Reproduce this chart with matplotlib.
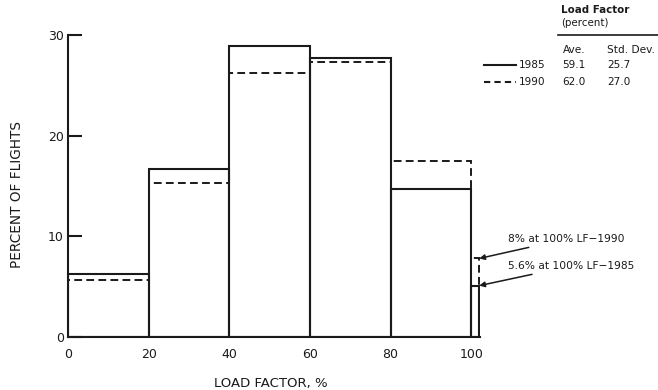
import matplotlib
matplotlib.use("Agg")
import matplotlib.pyplot as plt
import numpy as np

bin_edges = [0, 20, 40, 60, 80, 100, 102]
pct_1985 = [6.3, 16.7, 28.9, 27.7, 14.7, 5.1]
pct_1990 = [5.7, 15.3, 26.2, 27.3, 17.5, 7.8]
x_ticks = [0, 20, 40, 60, 80, 100]
y_ticks = [0, 10, 20, 30]
years = ["1985", "1990"]
ave = ["59.1", "62.0"]
std = ["25.7", "27.0"]

plt.rcParams['font.family'] = ['DejaVu Sans']
fig = plt.figure(figsize=(6.58, 3.9), dpi=100)
ax = fig.add_axes([68/658, 1-337/390, 412/658, 302/390])

edges = np.array(bin_edges)
widths = np.diff(edges)
ink = '#1a1a1a'
ax.bar(edges[:-1], pct_1990, width=widths, align='edge', fill=False,
       edgecolor=ink, linewidth=1.4, linestyle=(0, (4, 2.2)))
ax.bar(edges[:-1], pct_1985, width=widths, align='edge', fill=False,
       edgecolor=ink, linewidth=1.5, linestyle='-')

ax.set_xlim(0, 102.2)
ax.set_ylim(0, 30)
for s in ['top', 'right']:
    ax.spines[s].set_visible(False)
for s in ['left', 'bottom']:
    ax.spines[s].set_linewidth(1.5)
    ax.spines[s].set_color(ink)
ax.set_xticks(x_ticks)
ax.set_yticks(y_ticks)
ax.tick_params(axis='y', direction='in', length=10, width=1.5, labelsize=9, pad=3, colors=ink)
ax.tick_params(axis='x', length=0, labelsize=9, pad=8, colors=ink)
ax.set_ylabel("PERCENT OF FLIGHTS", fontsize=9.8, labelpad=18, color=ink)
ax.yaxis.set_label_coords(-(68-17)/412, 0.5 - 9/302)
ax.set_xlabel("LOAD FACTOR, %", fontsize=9.5, color=ink)
ax.xaxis.set_label_coords((271-68)/412, -(383-337)/302)
ax.xaxis.label.set_va('center')
ax.yaxis.label.set_va('center')

# legend table
fs = 7.6
fig.text(561/658, 1-10/390, "Load Factor", fontsize=7.4, fontweight='semibold', va='center', ha='left', color=ink)
fig.text(561/658, 1-23/390, "(percent)", fontsize=7.4, va='center', ha='left', color=ink)
fig.add_artist(plt.Line2D([558/658, 1.0], [1-35/390, 1-35/390], transform=fig.transFigure, color=ink, lw=1.2))
fig.text(563/658, 1-50/390, "Ave.", fontsize=fs, va='center', ha='left', color=ink)
fig.text(607/658, 1-50/390, "Std. Dev.", fontsize=fs, va='center', ha='left', color=ink)
row_y = [65, 82]
styles = ['-', (0, (3, 2))]
for yy, yr, a, s, ls in zip(row_y, years, ave, std, styles):
    fig.add_artist(plt.Line2D([484/658, 516/658], [1-yy/390]*2, transform=fig.transFigure,
                              color=ink, lw=1.5, linestyle=ls))
    fig.text(519/658, 1-yy/390, yr, fontsize=fs, va='center', ha='left', color=ink)
    fig.text(562/658, 1-yy/390, a, fontsize=fs, va='center', ha='left', color=ink)
    fig.text(607/658, 1-yy/390, s, fontsize=fs, va='center', ha='left', color=ink)

# annotations
ax.annotate("8% at 100% LF\u22121990", xy=(102, pct_1990[-1]), xycoords='data',
            xytext=(508/658, 1-239/390), textcoords='figure fraction',
            fontsize=7.7, va='center', ha='left', color=ink,
            arrowprops=dict(arrowstyle='-|>', color=ink, lw=1.1, mutation_scale=8,
                            shrinkA=2, shrinkB=0))
ax.annotate("5.6% at 100% LF\u22121985", xy=(102, pct_1985[-1]), xycoords='data',
            xytext=(508/658, 1-266/390), textcoords='figure fraction',
            fontsize=7.7, va='center', ha='left', color=ink,
            arrowprops=dict(arrowstyle='-|>', color=ink, lw=1.1, mutation_scale=8,
                            shrinkA=2, shrinkB=0))
for a in ax.texts:
    a.set_clip_on(False)

fig.savefig("out.png", dpi=100)
